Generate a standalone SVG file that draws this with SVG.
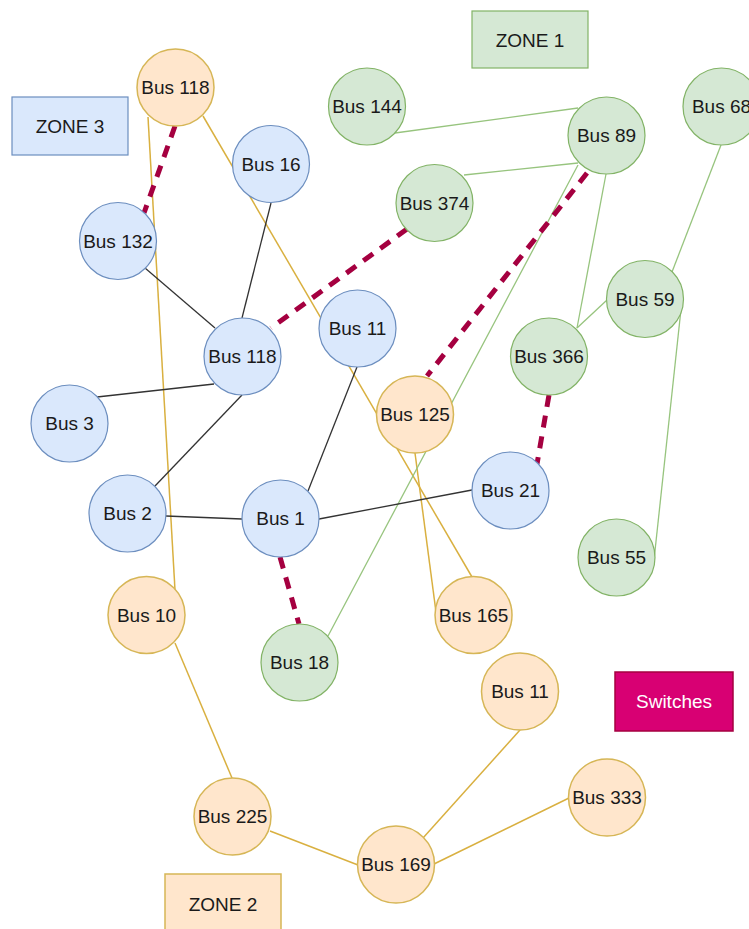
<svg xmlns="http://www.w3.org/2000/svg" width="749" height="929" viewBox="0 0 749 929">
  <style>
    text { font-family: "Liberation Sans", Arial, sans-serif; font-size: 19px; fill: #1a1a1a; text-anchor: middle; dominant-baseline: central; }
    .blue circle, .blue rect { fill: #dae8fc; stroke: #6c8ebf; stroke-width: 1.2; }
    .green circle, .green rect { fill: #d5e8d4; stroke: #82b366; stroke-width: 1.2; }
    .orange circle, .orange rect { fill: #ffe6cc; stroke: #d6b656; stroke-width: 1.5; }
    .l-orange { stroke: #d9b040; stroke-width: 1.5; fill: none; }
    .l-green { stroke: #97c47e; stroke-width: 1.3; fill: none; }
    .l-black { stroke: #333333; stroke-width: 1.3; fill: none; }
    .switch { stroke: #a50040; stroke-width: 5; stroke-dasharray: 12 9; fill: none; }
  </style>
  <rect width="749" height="929" fill="#ffffff"/>

  <!-- Lines and switches between buses -->
  <g id="connectors">
    <!-- Zone 2 lines -->
    <line class="l-orange" x1="148" y1="117" x2="175" y2="590"/>
    <line class="l-orange" x1="203" y1="116" x2="472" y2="577"/>
    <line class="l-orange" x1="415" y1="453" x2="436" y2="612"/>
    <line class="l-orange" x1="175" y1="643" x2="232" y2="778"/>
    <line class="l-orange" x1="270" y1="831" x2="358" y2="865"/>
    <line class="l-orange" x1="423" y1="838" x2="520" y2="730"/>
    <line class="l-orange" x1="434" y1="864" x2="569" y2="798"/>
    <!-- Zone 1 lines -->
    <line class="l-green" x1="395" y1="133" x2="578" y2="108"/>
    <line class="l-green" x1="464" y1="175" x2="578" y2="163"/>
    <line class="l-green" x1="578" y1="165" x2="328" y2="636"/>
    <line class="l-green" x1="606" y1="174" x2="577" y2="328"/>
    <line class="l-green" x1="607" y1="300" x2="577" y2="328"/>
    <line class="l-green" x1="721" y1="145" x2="672" y2="272"/>
    <line class="l-green" x1="682" y1="300" x2="654" y2="560"/>
    <!-- Zone 3 lines -->
    <line class="l-black" x1="145" y1="268" x2="215" y2="328"/>
    <line class="l-black" x1="271" y1="203" x2="242" y2="318"/>
    <line class="l-black" x1="97" y1="397" x2="214" y2="384"/>
    <line class="l-black" x1="155" y1="486" x2="242" y2="395"/>
    <line class="l-black" x1="166" y1="516" x2="242" y2="519"/>
    <line class="l-black" x1="308" y1="491" x2="357" y2="367"/>
    <line class="l-black" x1="319" y1="519" x2="472" y2="490"/>
    <!-- Switches -->
    <line class="switch" x1="175" y1="126" x2="144" y2="213"/>
    <line class="switch" x1="407" y1="229" x2="271" y2="328"/>
    <line class="switch" x1="587" y1="173" x2="427" y2="376"/>
    <line class="switch" x1="549" y1="395" x2="537" y2="464"/>
    <line class="switch" x1="280" y1="557" x2="299" y2="624"/>
  </g>

  <!-- Zone labels -->
  <g id="zone1" class="green"><rect x="472" y="11" width="116" height="57"/><text x="530" y="40">ZONE 1</text></g>
  <g id="zone2" class="orange"><rect x="165" y="874" width="116" height="58"/><text x="223" y="904">ZONE 2</text></g>
  <g id="zone3" class="blue"><rect x="12" y="97" width="116" height="58"/><text x="70" y="126">ZONE 3</text></g>

  <!-- Zone 3 buses -->
  <g id="bus16" class="blue"><circle cx="271" cy="164" r="38.5"/><text x="271" y="164">Bus 16</text></g>
  <g id="bus132" class="blue"><circle cx="118" cy="241" r="38.5"/><text x="118" y="241">Bus 132</text></g>
  <g id="bus118b" class="blue"><circle cx="242.5" cy="356.5" r="38.5"/><text x="242.5" y="356.5">Bus 118</text></g>
  <g id="bus11b" class="blue"><circle cx="357.5" cy="328.5" r="38.5"/><text x="357.5" y="328.5">Bus 11</text></g>
  <g id="bus3" class="blue"><circle cx="69.5" cy="423.5" r="38.5"/><text x="69.5" y="423.5">Bus 3</text></g>
  <g id="bus2" class="blue"><circle cx="127.5" cy="513.5" r="38.5"/><text x="127.5" y="513.5">Bus 2</text></g>
  <g id="bus1" class="blue"><circle cx="280.5" cy="518.5" r="38.5"/><text x="280.5" y="518.5">Bus 1</text></g>
  <g id="bus21" class="blue"><circle cx="510.5" cy="490.5" r="38.5"/><text x="510.5" y="490.5">Bus 21</text></g>

  <!-- Zone 1 buses -->
  <g id="bus144" class="green"><circle cx="367" cy="106.5" r="38.5"/><text x="367" y="106.5">Bus 144</text></g>
  <g id="bus89" class="green"><circle cx="606.5" cy="135.5" r="38.5"/><text x="606.5" y="135.5">Bus 89</text></g>
  <g id="bus68" class="green"><circle cx="721.5" cy="106.5" r="38.5"/><text x="721.5" y="106.5">Bus 68</text></g>
  <g id="bus374" class="green"><circle cx="434.5" cy="203" r="38.5"/><text x="434.5" y="203">Bus 374</text></g>
  <g id="bus59" class="green"><circle cx="645" cy="299" r="38.5"/><text x="645" y="299">Bus 59</text></g>
  <g id="bus366" class="green"><circle cx="549" cy="356.5" r="38.5"/><text x="549" y="356.5">Bus 366</text></g>
  <g id="bus55" class="green"><circle cx="616.5" cy="557.5" r="38.5"/><text x="616.5" y="557.5">Bus 55</text></g>
  <g id="bus18" class="green"><circle cx="299.5" cy="662.5" r="38.5"/><text x="299.5" y="662.5">Bus 18</text></g>

  <!-- Zone 2 buses -->
  <g id="bus118o" class="orange"><circle cx="175.5" cy="87.5" r="38.5"/><text x="175.5" y="87.5">Bus 118</text></g>
  <g id="bus125" class="orange"><circle cx="415" cy="414.5" r="38.5"/><text x="415" y="414.5">Bus 125</text></g>
  <g id="bus10" class="orange"><circle cx="146.5" cy="615" r="38.5"/><text x="146.5" y="615">Bus 10</text></g>
  <g id="bus165" class="orange"><circle cx="473.5" cy="615" r="38.5"/><text x="473.5" y="615">Bus 165</text></g>
  <g id="bus11o" class="orange"><circle cx="520" cy="691.5" r="38.5"/><text x="520" y="691.5">Bus 11</text></g>
  <g id="bus333" class="orange"><circle cx="607" cy="797.5" r="38.5"/><text x="607" y="797.5">Bus 333</text></g>
  <g id="bus225" class="orange"><circle cx="232.5" cy="816.5" r="38.5"/><text x="232.5" y="816.5">Bus 225</text></g>
  <g id="bus169" class="orange"><circle cx="396" cy="864.5" r="38.5"/><text x="396" y="864.5">Bus 169</text></g>

  <!-- Legend -->
  <g id="switches-legend">
    <rect x="615" y="672" width="118" height="59" fill="#d80073" stroke="#a50040" stroke-width="1.5"/>
    <text x="674" y="701.5" style="fill:#ffffff">Switches</text>
  </g>
</svg>
